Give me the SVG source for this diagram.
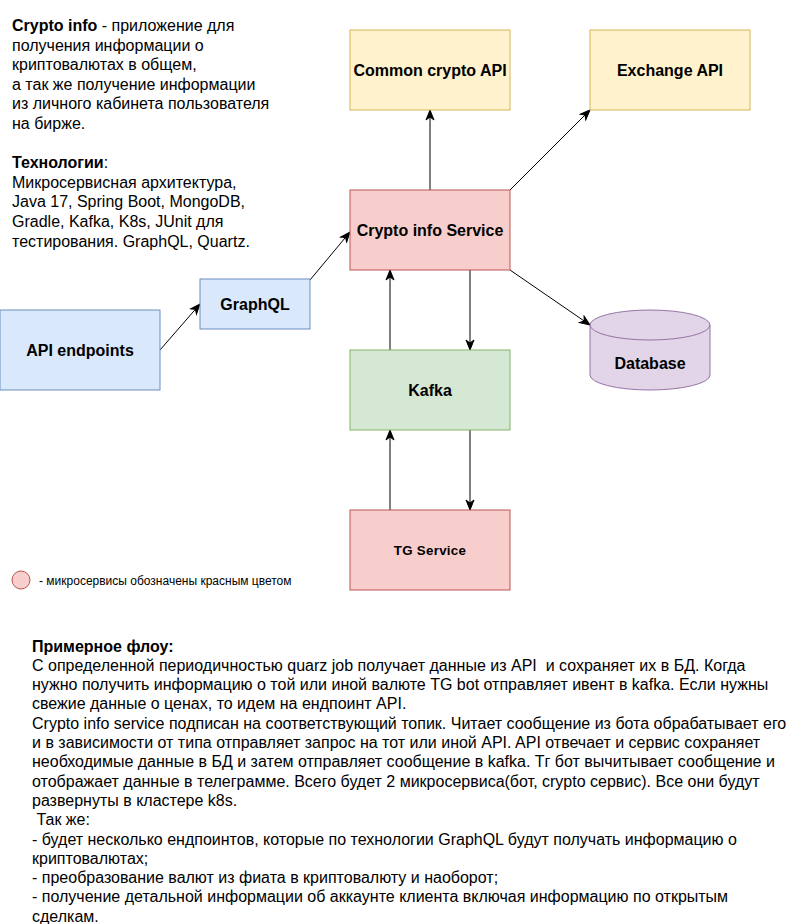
<svg xmlns="http://www.w3.org/2000/svg" width="791" height="924" viewBox="0 0 791 924">
<style>
text{font-family:"Liberation Sans",Arial,sans-serif;fill:#000}
.lbl{font-size:16px;font-weight:bold;text-anchor:middle}
.body{font-size:16px}
.b{font-weight:bold}
.yel{fill:#fff2cc;stroke:#d6b656}
.red{fill:#f8cecc;stroke:#b85450}
.blue{fill:#dae8fc;stroke:#6c8ebf}
.green{fill:#d5e8d4;stroke:#82b366}
.purple{fill:#e1d5e7;stroke:#9673a6}
.edge{fill:none;stroke:#000;stroke-width:1;marker-end:url(#arr)}
</style>
<defs>
<marker id="arr" markerUnits="userSpaceOnUse" markerWidth="12" markerHeight="10" viewBox="0 0 12 10" refX="11" refY="5" orient="auto">
<path d="M1,1 L11,5 L1,9 L4,5 Z" fill="#000" stroke="#000" stroke-width="1"/>
</marker>
</defs>
<rect width="791" height="924" fill="#fff"/>

<g id="intro">
<text class="body" x="12" y="31"><tspan class="b">Crypto info</tspan> - приложение для</text>
<text class="body" x="12" y="50.6">получения информации о</text>
<text class="body" x="12" y="70.2">криптовалютах в общем,</text>
<text class="body" x="12" y="89.8">а так же получение информации</text>
<text class="body" x="12" y="109.4">из личного кабинета пользователя</text>
<text class="body" x="12" y="129">на бирже.</text>
<text class="body" x="12" y="168.2"><tspan class="b">Технологии</tspan>:</text>
<text class="body" x="12" y="187.8">Микросервисная архитектура,</text>
<text class="body" x="12" y="207.4">Java 17, Spring Boot, MongoDB,</text>
<text class="body" x="12" y="227">Gradle, Kafka, K8s, JUnit для</text>
<text class="body" x="12" y="246.6">тестирования. GraphQL, Quartz.</text>
</g>

<g id="connectors">
<path class="edge" d="M430,190 L430,110"/>
<path class="edge" d="M510,190 L590,110"/>
<path class="edge" d="M510,270 L590,325"/>
<path class="edge" d="M310,280 L350,232"/>
<path class="edge" d="M160,350 L200,304"/>
<path class="edge" d="M390,350 L390,270"/>
<path class="edge" d="M470,270 L470,350"/>
<path class="edge" d="M390,510 L390,430"/>
<path class="edge" d="M470,430 L470,510"/>
</g>

<g id="common-crypto-api">
<rect class="yel" x="350" y="30" width="160" height="80"/>
<text class="lbl" x="430" y="75.5">Common crypto API</text>
</g>
<g id="exchange-api">
<rect class="yel" x="590" y="30" width="160" height="80"/>
<text class="lbl" x="670" y="75.5">Exchange API</text>
</g>
<g id="crypto-info-service">
<rect class="red" x="350" y="190" width="160" height="80"/>
<text class="lbl" x="430" y="235.5">Crypto info Service</text>
</g>
<g id="graphql">
<rect class="blue" x="200" y="279" width="110" height="50"/>
<text class="lbl" x="255" y="309.5">GraphQL</text>
</g>
<g id="api-endpoints">
<rect class="blue" x="0" y="310" width="160" height="80"/>
<text class="lbl" x="80" y="355.5">API endpoints</text>
</g>
<g id="database">
<path class="purple" d="M590,325 A60,15 0 0,1 710,325 L710,375 A60,15 0 0,1 590,375 Z"/>
<path fill="none" stroke="#9673a6" d="M590,325 A60,15 0 0,0 710,325"/>
<text class="lbl" x="650" y="368.5">Database</text>
</g>
<g id="kafka">
<rect class="green" x="350" y="350" width="160" height="80"/>
<text class="lbl" x="430" y="395.5">Kafka</text>
</g>
<g id="tg-service">
<rect class="red" x="350" y="510" width="160" height="80"/>
<text class="lbl" x="430" y="554.5" style="font-size:13.3px;letter-spacing:0.3px">TG Service</text>
</g>

<g id="legend">
<circle class="red" cx="21" cy="580" r="9"/>
<text x="39" y="584.5" style="font-size:12px">- микросервисы обозначены красным цветом</text>
</g>

<g id="flow">
<text class="body b" x="32" y="651.5">Примерное флоу:</text>
<text class="body" x="32" y="670.8" xml:space="preserve">С определенной периодичностью quarz job получает данные из API  и сохраняет их в БД. Когда</text>
<text class="body" x="32" y="690.1">нужно получить информацию о той или иной валюте TG bot отправляет ивент в kafka. Если нужны</text>
<text class="body" x="32" y="709.4">свежие данные о ценах, то идем на ендпоинт API.</text>
<text class="body" x="32" y="728.7">Crypto info service подписан на соответствующий топик. Читает сообщение из бота обрабатывает его</text>
<text class="body" x="32" y="748">и в зависимости от типа отправляет запрос на тот или иной API. API отвечает и сервис сохраняет</text>
<text class="body" x="32" y="767.3">необходимые данные в БД и затем отправляет сообщение в kafka. Тг бот вычитывает сообщение и</text>
<text class="body" x="32" y="786.6">отображает данные в телеграмме. Всего будет 2 микросервиса(бот, crypto сервис). Все они будут</text>
<text class="body" x="32" y="805.9">развернуты в кластере k8s.</text>
<text class="body" x="32" y="825.2" xml:space="preserve"> Так же:</text>
<text class="body" x="32" y="844.5">- будет несколько ендпоинтов, которые по технологии GraphQL будут получать информацию о</text>
<text class="body" x="32" y="863.8">криптовалютах;</text>
<text class="body" x="32" y="883.1">- преобразование валют из фиата в криптовалюту и наоборот;</text>
<text class="body" x="32" y="902.4">- получение детальной информации об аккаунте клиента включая информацию по открытым</text>
<text class="body" x="32" y="921.7">сделкам.</text>
</g>
</svg>
